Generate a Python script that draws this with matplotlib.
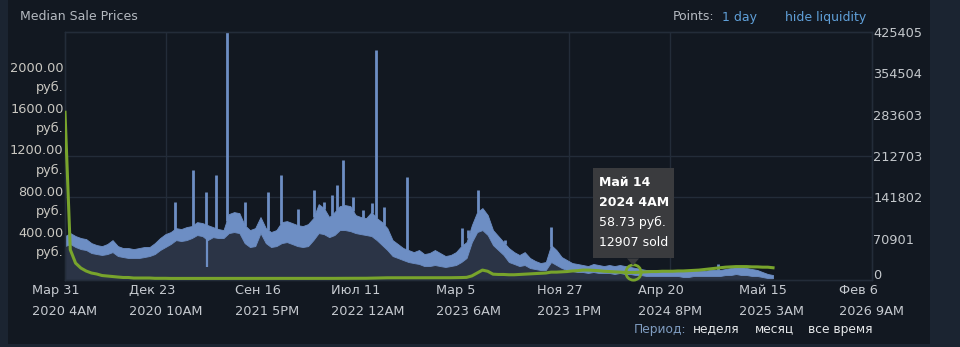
import numpy as np
import pandas as pd
import matplotlib
matplotlib.use("Agg")
import matplotlib.pyplot as plt
import matplotlib.dates as mdates
from matplotlib.patches import Rectangle, Polygon
from matplotlib.transforms import IdentityTransform, ScaledTranslation

plt.rcParams["font.family"] = ["DejaVu Sans"]

# ---- data -------------------------------------------------------------
# Daily median price summarised every two weeks: lower / upper envelope (RUB)
sample_start = "2020-03-31 04:00"
price_hi = [425, 454, 425, 406, 396, 357, 338, 328, 348, 386,
            328, 309, 309, 299, 309, 319, 319, 357, 406, 444,
            464, 502, 493, 512, 522, 560, 551, 531, 512, 493,
            483, 638, 657, 647, 531, 483, 502, 609, 502, 464,
            483, 560, 570, 551, 531, 522, 541, 599, 734, 696,
            609, 657, 715, 725, 715, 628, 609, 599, 657, 599,
            560, 502, 386, 348, 309, 290, 270, 290, 251, 261,
            290, 261, 232, 242, 270, 328, 367, 531, 657, 696,
            628, 483, 425, 367, 309, 270, 242, 270, 213, 184,
            164, 174, 338, 290, 222, 193, 164, 155, 145, 135,
            155, 145, 135, 145, 135, 145, 135, 126, 116, 106,
            97, 97, 97, 97, 87, 97, 87, 87, 87, 97,
            87, 87, 97, 97, 97, 106, 116, 126, 126, 116,
            106, 97, 77, 58, 48]
price_lo = [328, 348, 319, 299, 290, 261, 251, 242, 251, 270,
            232, 222, 213, 213, 213, 222, 232, 251, 290, 319,
            348, 386, 377, 386, 406, 435, 425, 386, 415, 406,
            406, 454, 464, 454, 357, 319, 328, 454, 357, 319,
            328, 357, 367, 348, 328, 319, 328, 386, 454, 444,
            415, 435, 483, 483, 473, 454, 444, 435, 425, 386,
            338, 290, 232, 213, 193, 174, 164, 155, 135, 135,
            145, 135, 126, 135, 145, 174, 213, 367, 464, 483,
            435, 338, 290, 242, 174, 155, 135, 145, 116, 106,
            97, 97, 174, 145, 116, 97, 87, 77, 77, 68,
            77, 68, 68, 68, 58, 68, 58, 58, 48, 48,
            39, 39, 39, 39, 39, 39, 39, 29, 29, 39,
            39, 39, 39, 39, 39, 48, 48, 58, 48, 48,
            39, 39, 29, 19, 19]
# Items sold per day at the same sample dates
sold_per_day = [287700, 52000, 29000, 20500, 15400, 12000, 10300, 7700, 6800, 6000,
                5100, 4300, 4300, 3400, 3400, 3400, 3400, 2900, 2900, 2900,
                2700, 2700, 2700, 2700, 2700, 2700, 2700, 2700, 2700, 2700,
                2700, 2700, 2700, 2700, 2700, 2700, 2700, 2700, 2700, 2700,
                2700, 2700, 2700, 2700, 2700, 2700, 2700, 2700, 2700, 2800,
                2800, 2800, 2900, 2900, 2900, 3000, 3000, 3000, 3200, 3400,
                3600, 3800, 3800, 3800, 3900, 3900, 3900, 3900, 3900, 3900,
                3900, 3900, 3900, 3900, 4000, 4200, 4500, 7000, 12000, 17000,
                15000, 10000, 9500, 9500, 9000, 9000, 9500, 10000, 10500, 11000,
                11500, 12000, 13500, 13500, 14000, 14500, 15500, 16000, 17000, 17000,
                16500, 16000, 15000, 14500, 14000, 13500, 13000, 12900, 13000, 13500,
                14000, 14500, 14500, 15000, 15000, 15000, 15500, 15500, 16000, 16500,
                17000, 18000, 19000, 20000, 21000, 22000, 22500, 23000, 23000, 23000,
                22500, 22500, 22000, 22000, 21000]

# Single-day price spikes (RUB)
spike_dates = ["2021-01-16", "2021-03-05", "2021-04-09", "2021-05-05", "2021-06-03",
               "2021-07-21", "2021-09-20", "2021-10-24", "2021-12-08", "2022-01-20",
               "2022-02-15", "2022-03-08", "2022-03-22", "2022-04-07", "2022-05-03",
               "2022-05-30", "2022-06-22", "2022-07-03", "2022-07-24", "2022-09-23",
               "2023-02-16", "2023-03-04", "2023-03-30", "2023-06-10", "2023-10-09",
               "2024-12-25"]
spike_prices = [753, 1063, 850, 1014, 2600, 753, 850, 1014, 686, 869,
                753, 821, 918, 1159, 802, 676, 744, 2222, 705, 995,
                502, 483, 869, 386, 512, 155]
# Single-day price drops (RUB)
dip_dates = ["2021-04-11"]
dip_prices = [126]

# Axis ranges and labels
x_start, x_end = "2020-03-31 04:00", "2026-02-06 09:00"
x_tick_labels = ["Мар 31\n2020 4AM", "Дек 23\n2020 10AM", "Сен 16\n2021 5PM",
                 "Июл 11\n2022 12AM", "Мар 5\n2023 6AM", "Ноя 27\n2023 1PM",
                 "Апр 20\n2024 8PM", "Май 15\n2025 3AM", "Фев 6\n2026 9AM"]
x_grid_index = [1, 5, 6]
price_max = 2400
price_ticks = [400, 800, 1200, 1600, 2000]
price_grid = [800, 1200]
volume_ticks = [0, 70901, 141802, 212703, 283603, 354504, 425405]

# Hover tooltip
tip_date = "2024-05-14 04:00"
tip_label = ["Май 14", "2024 4AM"]
tip_price = 58.73
tip_sold = 12907

# ---- style ------------------------------------------------------------
BG = "#121821"
OUTER = "#1b2431"
GRID = "#232c39"
BLUE = "#6d8ec4"
FILL = "#2b3446"
GREEN = "#78a42c"
TXT = "#c6cad0"
LINK = "#5f9fd8"

W, H = 960, 347
fig = plt.figure(figsize=(W / 100, H / 100), dpi=100, facecolor=OUTER)
fig.add_artist(Rectangle((8 / W, 3 / H), (930 - 8) / W, 1 - 3 / H,
                         transform=fig.transFigure, facecolor=BG,
                         edgecolor="none", zorder=-10))

left, right, top, bottom = 65, 872, 32, 280
ax = fig.add_axes([left / W, 1 - bottom / H, (right - left) / W, (bottom - top) / H])
ax.set_facecolor("none")
ax2 = ax.twinx()

dates = pd.date_range(sample_start, periods=len(price_hi), freq="14D")
xd = mdates.date2num(dates)
hi = np.array(price_hi, float)
lo = np.array(price_lo, float)

ax.fill_between(xd, 0, lo, color=FILL, lw=0, zorder=2)
ax.fill_between(xd, lo, hi, color=BLUE, lw=0.6, edgecolor=BLUE, zorder=3)

sx = mdates.date2num(pd.to_datetime(spike_dates))
ax.vlines(sx, np.interp(sx, xd, hi) - 5, spike_prices, color=BLUE, lw=2.0, zorder=3)
dx = mdates.date2num(pd.to_datetime(dip_dates))
ax.vlines(dx, dip_prices, np.interp(dx, xd, lo) + 5, color=BLUE, lw=1.6, zorder=3)

ax2.plot(xd, sold_per_day, color=GREEN, lw=2.2, solid_joinstyle="round", zorder=4)

# limits and ticks
x0, x1 = mdates.date2num(pd.Timestamp(x_start)), mdates.date2num(pd.Timestamp(x_end))
xt = np.linspace(x0, x1, len(x_tick_labels))
ax.set_xlim(x0, x1)
ax.set_ylim(0, price_max)
ax2.set_ylim(0, volume_ticks[-1])

ax.set_xticks(xt)
ax.set_xticklabels(x_tick_labels, color=TXT, fontsize=9.3, linespacing=1.75,
                   multialignment="left")
ax.set_yticks(price_ticks)
ax.set_yticklabels([f"{p:.2f}\nруб." for p in price_ticks], color="#cac8c2",
                   fontsize=9.3, linespacing=1.6)
ax2.set_yticks(volume_ticks)
ax2.set_yticklabels([str(v) for v in volume_ticks], color="#c4c8cc", fontsize=9.3)
ax.tick_params(axis="x", length=0, pad=3)
ax.tick_params(axis="y", length=0, pad=1)
ax2.tick_params(axis="y", length=0, pad=1)

# lift the bottom volume label a little so it sits just above the date labels
zero_label = ax2.get_yticklabels()[0]
zero_label.set_transform(zero_label.get_transform()
                         + ScaledTranslation(0, 4 / 72, fig.dpi_scale_trans))

for a in (ax, ax2):
    for s in a.spines.values():
        s.set_color(GRID)
        s.set_linewidth(1.0)

for i in x_grid_index:
    ax.axvline(xt[i], color=GRID, lw=1.0, zorder=1)
for p in price_grid:
    ax.axhline(p, color=GRID, lw=1.0, zorder=1)

# tooltip on the hovered day
tx = mdates.date2num(pd.Timestamp(tip_date))
ax2.plot([tx], [tip_sold], marker="o", ms=11, mfc="none", mec=GREEN, mew=2, zorder=6,
         clip_on=False)
fig.canvas.draw()
px, py = ax2.transData.transform((tx, tip_sold))
bw, bh = 81, 90
bx, by = px - bw / 2, py + 14
ident = IdentityTransform()
fig.add_artist(Rectangle((bx, by), bw, bh, transform=ident, facecolor="#3a3b3e",
                         edgecolor="none", zorder=20))
fig.add_artist(Polygon([(px - 6, by), (px + 6, by), (px, by - 7)], closed=True,
                       transform=ident, facecolor="#3a3b3e", edgecolor="none", zorder=20))
tip_lines = tip_label + [f"{tip_price:.2f} руб.", f"{tip_sold} sold"]
for k, line in enumerate(tip_lines):
    fig.text(bx + 6, by + bh - 14 - k * 20, line, transform=ident, color="white",
             fontsize=9, fontweight="bold" if k < 2 else "normal",
             va="center", ha="left", zorder=21)

# header and footer
def put(x, y, s, color, **kw):
    fig.text(x / W, 1 - y / H, s, color=color, va="center", ha="left", **kw)

put(20, 17, "Median Sale Prices", "#b4b9c0", fontsize=9)
put(673, 17, "Points:", "#b4b9c0", fontsize=9)
put(722, 17, "1 day", LINK, fontsize=9)
put(785, 17, "hide liquidity", LINK, fontsize=9)
put(634, 329, "Период:", "#7f9cc0", fontsize=8.8)
put(693, 329, "неделя", "#e6e8ea", fontsize=8.8)
put(755, 329, "месяц", "#e6e8ea", fontsize=8.8)
put(808, 329, "все время", "#e6e8ea", fontsize=8.8)

fig.savefig("out.png", dpi=100, facecolor=OUTER)
